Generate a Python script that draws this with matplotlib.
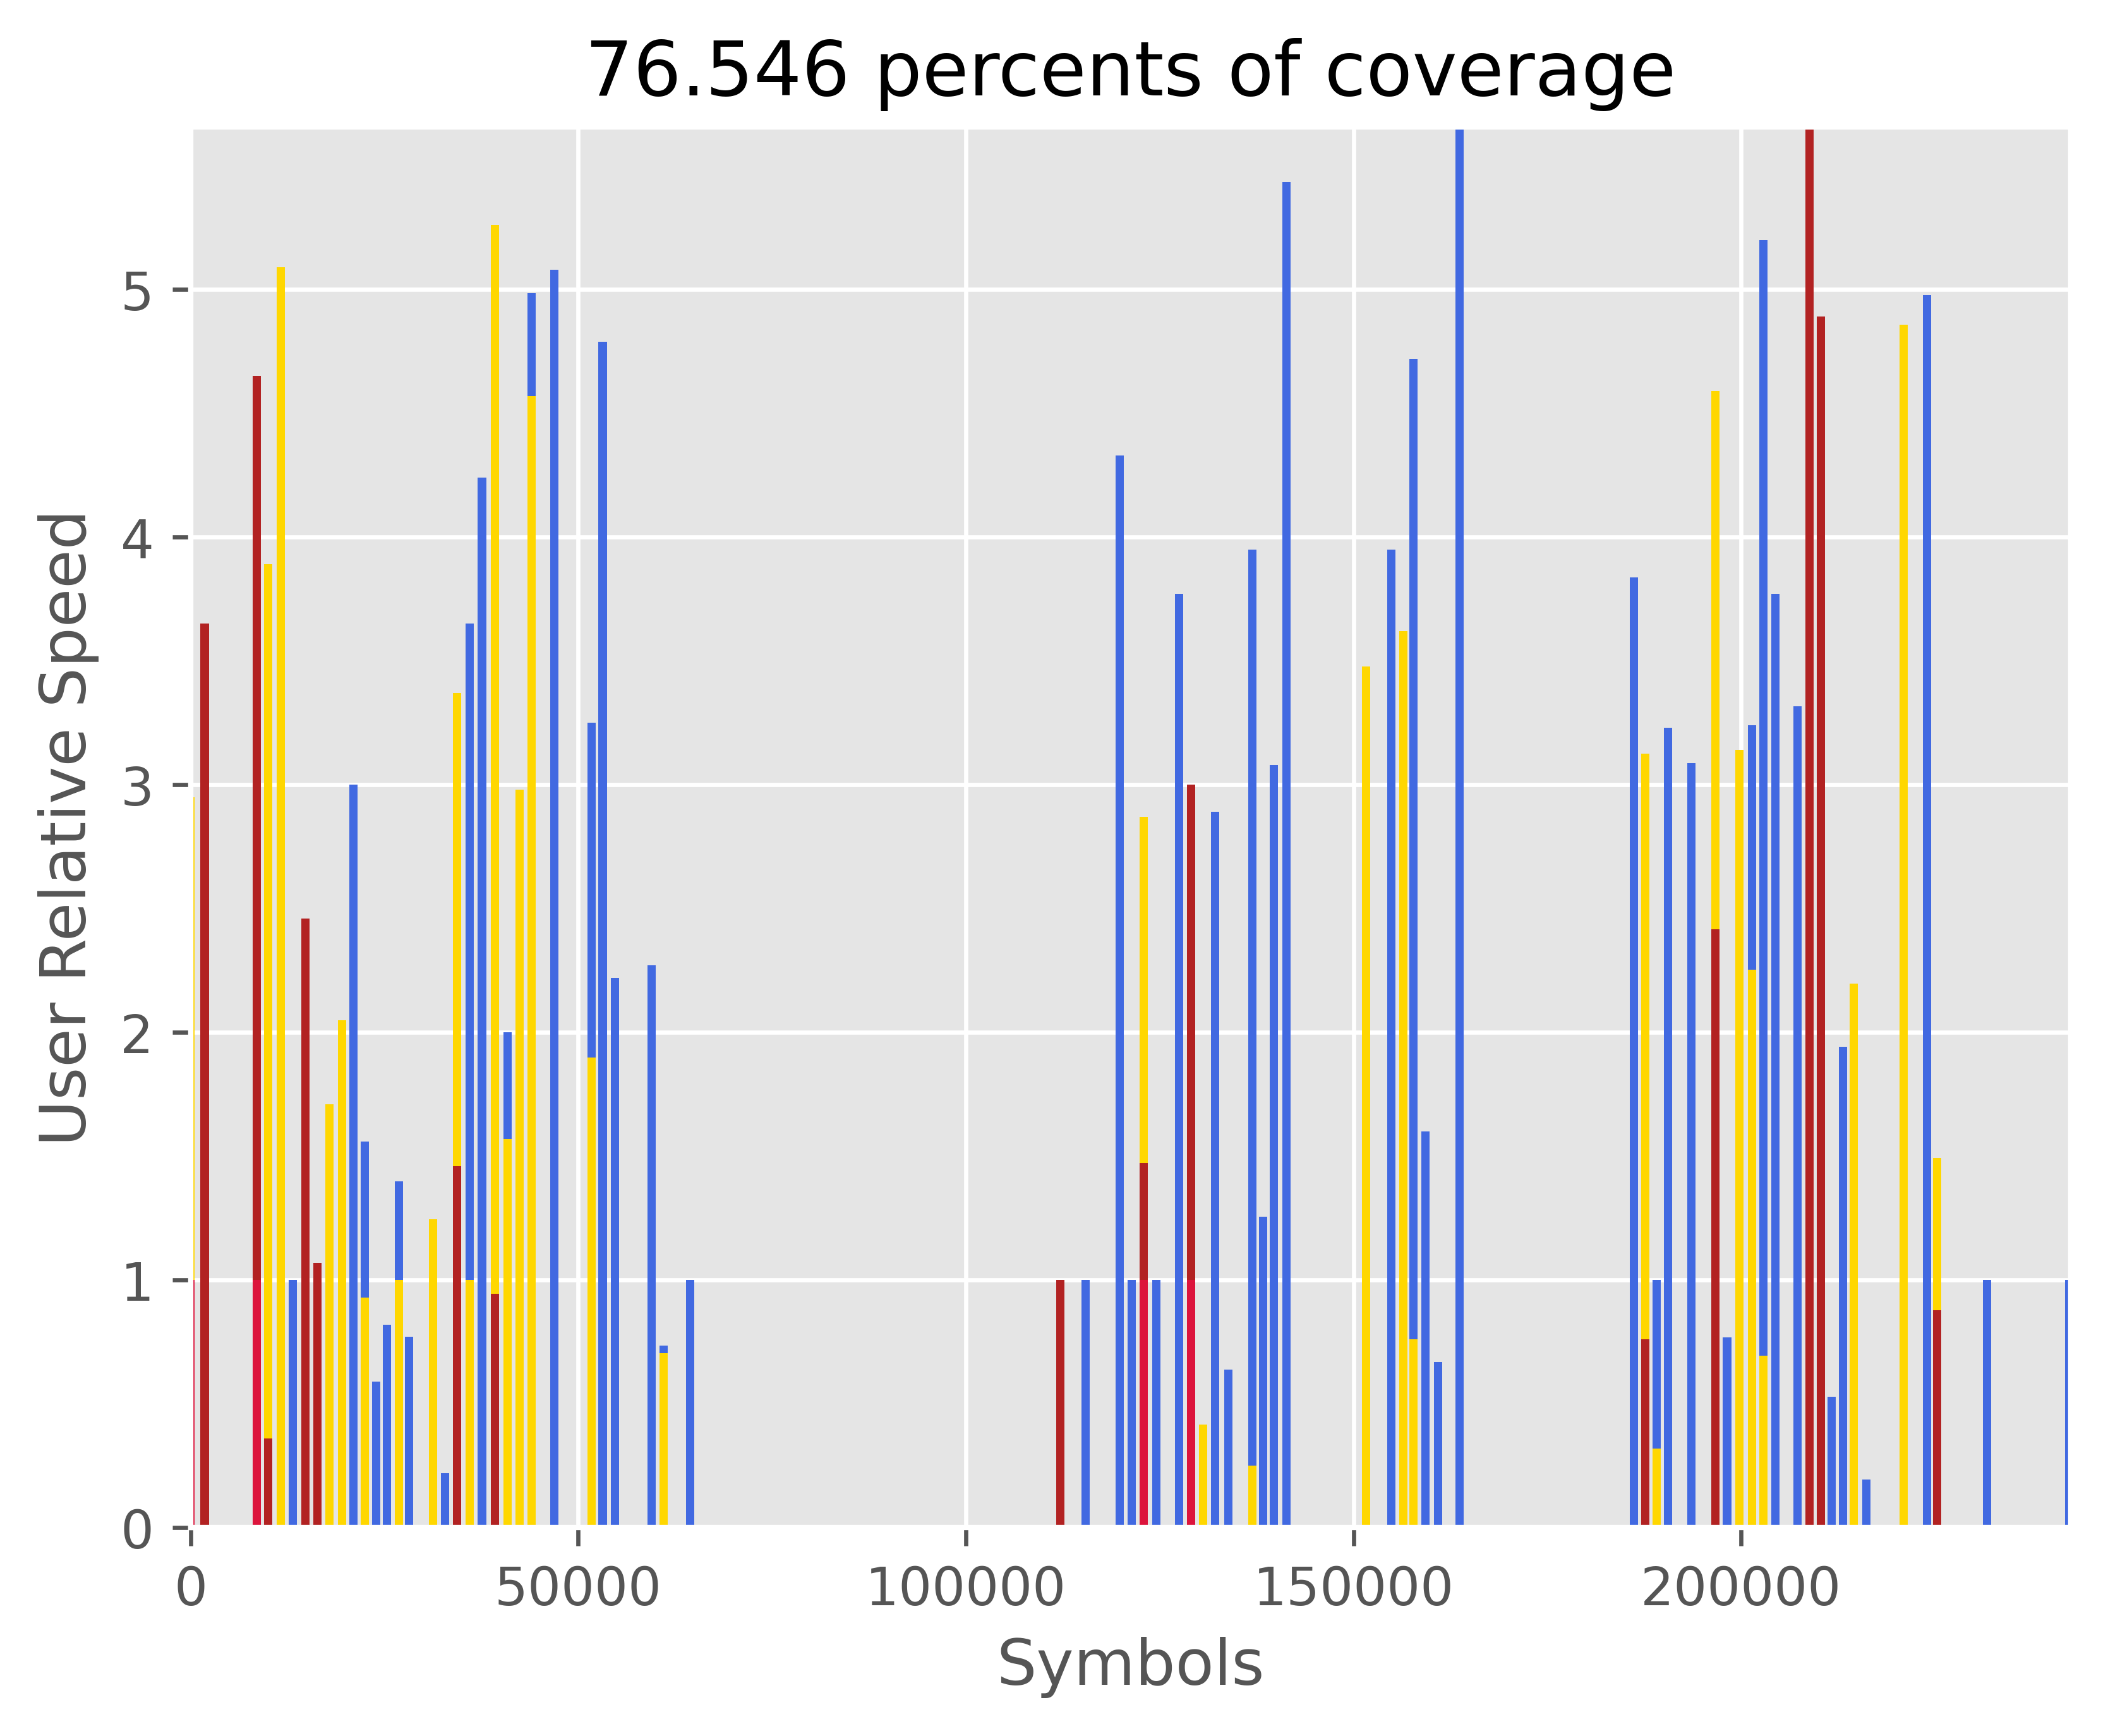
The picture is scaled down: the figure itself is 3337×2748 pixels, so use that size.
import matplotlib
matplotlib.use('Agg')
import matplotlib.pyplot as plt

plt.style.use('ggplot')

# bars by colour, drawn in this order (later ones cover earlier ones)
blue_x = [13167, 21000, 22438, 23917, 25292, 26854, 28188, 32813, 36000, 37583,
          40854, 43958, 46938, 51708, 53146, 54708, 59438, 61000, 64400,
          115450, 119850, 121350, 124550, 127520, 132150, 133820, 136920, 138350,
          139740, 141330, 154900, 157730, 159260, 160880, 163650,
          186130, 189100, 190550, 193600, 198170, 201370, 202870, 204380, 207290,
          211690, 213130, 216120, 223930, 231700, 242270]
blue_y = [1.0, 3.0, 1.56, 0.59, 0.82, 1.40, 0.77, 0.22, 3.65, 4.24,
          2.0, 4.985, 5.08, 3.25, 4.79, 2.22, 2.27, 0.735, 1.0,
          1.0, 4.33, 1.0, 1.0, 3.77, 2.89, 0.638, 3.95, 1.257,
          3.08, 5.435, 3.95, 4.72, 1.60, 0.668, 5.70,
          3.837, 1.0, 3.23, 3.087, 0.769, 3.24, 5.2, 3.77, 3.316,
          0.529, 1.943, 0.195, 4.977, 1.0, 1.0]

gold_x = [0, 10021, 11626, 17896, 19542, 22438, 26854, 31230, 34333, 36000,
          39229, 40854, 42438, 43958, 51708, 61000,
          122950, 130600, 136920, 151600, 156390, 157730,
          187640, 189100, 196650, 199780, 201370, 202870, 214500, 220920, 225270]
gold_y = [2.95, 3.89, 5.09, 1.71, 2.05, 0.93, 1.0, 1.245, 3.37, 1.0,
          5.26, 1.57, 2.98, 4.57, 1.90, 0.705,
          2.87, 0.416, 0.25, 3.477, 3.62, 0.76,
          3.125, 0.319, 4.59, 3.14, 2.254, 0.694, 2.198, 4.857, 1.493]

firebrick_x = [1813, 8542, 10021, 14771, 16354, 34333, 39229,
               112200, 122950, 129040,
               187640, 196650, 208780, 210250, 225270]
firebrick_y = [3.65, 4.65, 0.36, 2.46, 1.07, 1.46, 0.945,
               1.0, 1.474, 3.0,
               0.76, 2.416, 5.70, 4.89, 0.878]

crimson_x = [0, 8542, 122950, 129040]
crimson_y = [1.0, 1.0, 1.0, 1.0]

coverage = 76.546
total_symbols = 242480

fig = plt.figure(figsize=(6.4, 4.8))
ax = fig.add_subplot(111)
w = 1070
ax.bar(blue_x, blue_y, width=w, color='royalblue')
ax.bar(gold_x, gold_y, width=w, color='gold')
ax.bar(firebrick_x, firebrick_y, width=w, color='firebrick')
ax.bar(crimson_x, crimson_y, width=w, color='crimson')

ax.set_xlim(0, total_symbols)
ax.set_ylim(0, 5.657)
ax.set_title(f'{coverage} percents of coverage')
ax.set_xlabel('Symbols')
ax.set_ylabel('User Relative Speed')

plt.savefig('out.png', dpi=600, bbox_inches='tight')
